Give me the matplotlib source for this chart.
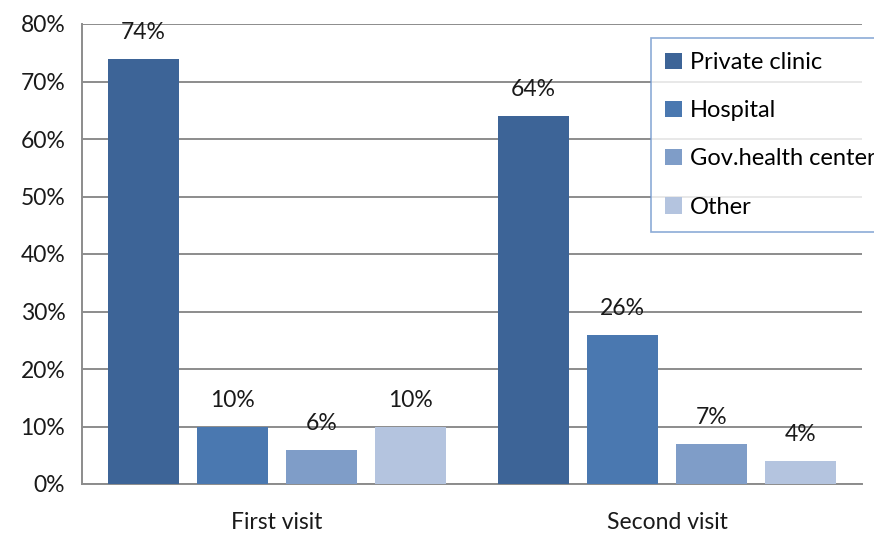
import numpy as np
import matplotlib.pyplot as plt
from matplotlib.ticker import PercentFormatter

plt.rcParams['font.family'] = ['Lato', 'DejaVu Sans']

# Place of visit, share of respondents (%)
visits = ["First visit", "Second visit"]
places = ["Private clinic", "Hospital", "Gov.health center", "Other"]
private_clinic = [74, 64]
hospital = [10, 26]
gov_health_center = [6, 7]
other = [10, 4]

series = [private_clinic, hospital, gov_health_center, other]
colors = ["#3D6497", "#4A78B0", "#7F9DC8", "#B4C4DF"]

fig = plt.figure(figsize=(8.74, 5.36), dpi=100)
ax = fig.add_axes([82 / 874, 1 - 484 / 536, 780 / 874, 460 / 536])

x = np.arange(len(visits))
width = 0.183
step = 0.228
offsets = (np.arange(len(series)) - 1.5) * step

for vals, off, col, name in zip(series, offsets, colors, places):
    bars = ax.bar(x + off, vals, width=width, color=col, label=name, zorder=3)
    for b, v in zip(bars, vals):
        ax.annotate(f"{v}%", (b.get_x() + b.get_width() / 2, v),
                    xytext=(0, 19), textcoords="offset points",
                    ha="center", va="center", fontsize=16.5, color="#1a1a1a",
                    zorder=4)

ax.set_xlim(-0.5, 1.5)
ax.set_ylim(0, 80)
ax.set_yticks(np.arange(0, 81, 10))
ax.yaxis.set_major_formatter(PercentFormatter(decimals=0))
ax.set_xticks(x)
ax.set_xticklabels(visits)
ax.tick_params(axis="both", length=0, labelsize=16.5, colors="#1a1a1a")
ax.tick_params(axis="x", pad=20)
ax.tick_params(axis="y", pad=12)

ax.grid(axis="y", color="#8c8c8c", linewidth=1.4, zorder=0)
for s in ["top", "right"]:
    ax.spines[s].set_visible(False)
for s in ["left", "bottom"]:
    ax.spines[s].set_color("#8c8c8c")
    ax.spines[s].set_linewidth(1.4)

leg = fig.legend(loc="upper left", bbox_to_anchor=(651 / 874, 1 - 38 / 536),
                 fontsize=17, frameon=True, fancybox=False,
                 handlelength=0.7, handleheight=0.7, handletextpad=0.35,
                 labelspacing=1.15, borderpad=0.6, borderaxespad=0)
leg.get_frame().set_edgecolor("#7096CC")
leg.get_frame().set_linewidth(1.2)

fig.savefig("out.png", dpi=100)
